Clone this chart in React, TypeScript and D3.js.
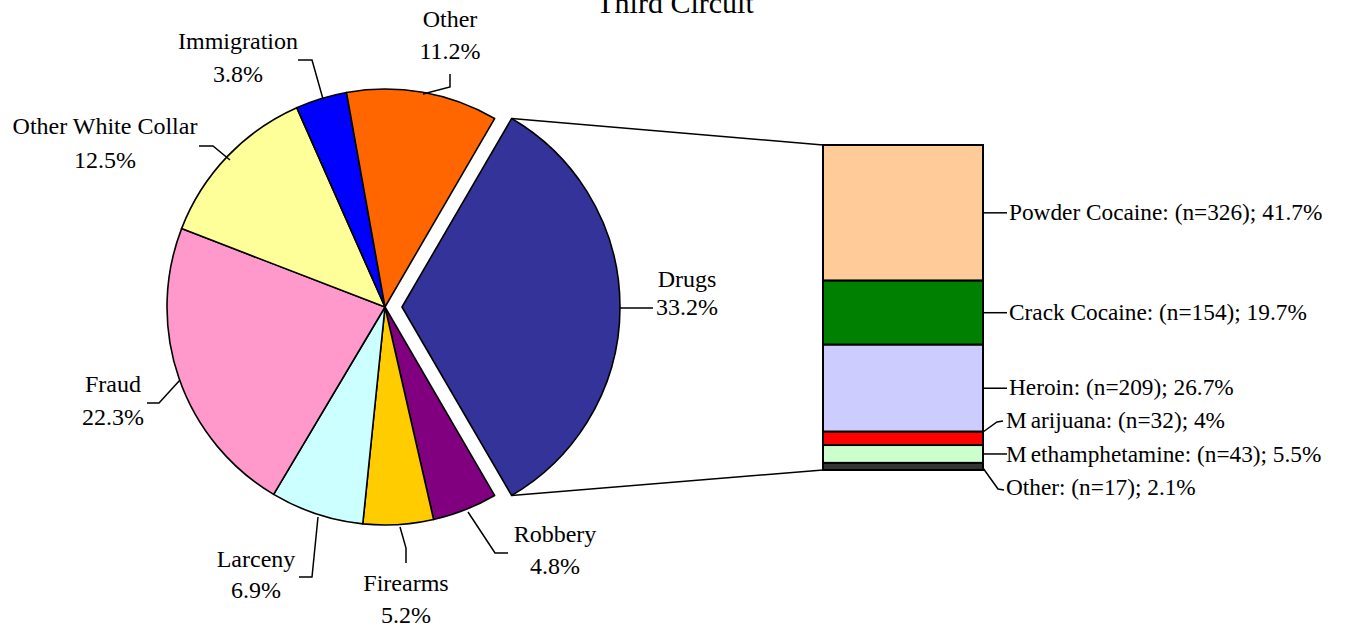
import React from "react";
import * as d3 from "d3";

// ---------- data ----------
const offenseNames = ["Drugs", "Robbery", "Firearms", "Larceny", "Fraud", "Other White Collar", "Immigration", "Other"];
const offensePct = [33.2, 4.8, 5.2, 6.9, 22.3, 12.5, 3.8, 11.2];
const offenseColors = ["#333399", "#800080", "#FFCC00", "#CCFFFF", "#FF99CC", "#FFFF99", "#0000FF", "#FF6600"];

const drugNames = ["Powder Cocaine", "Crack Cocaine", "Heroin", "Marijuana", "Methamphetamine", "Other"];
const drugCounts = [326, 154, 209, 32, 43, 17];
const drugPct = ["41.7%", "19.7%", "26.7%", "4%", "5.5%", "2.1%"];
const drugColors = ["#FFCC99", "#008000", "#CCCCFF", "#FF0000", "#CCFFCC", "#333333"];

const title = "Third Circuit";
const barTitle = "Drug Type";

// ---------- layout ----------
const W = 1348, H = 628;
const CX = 385, CY = 307, R = 218, EXPLODE = 17;
const BAR_X0 = 823, BAR_X1 = 983, BAR_Y0 = 145, BAR_Y1 = 470;
const FONT = "Liberation Serif";
const FS_PIE = 24;
const FS_BAR = 23.3;

// label layout for pie slices: text center x, baselines, leader polyline
const pieLabelLayout: Record<string, { x: number; y1: number; y2: number; leader: [number, number][] }> = {
  "Other": { x: 450, y1: 27, y2: 59, leader: [[450, 74], [450, 87], [423, 94]] },
  "Immigration": { x: 238, y1: 49, y2: 82, leader: [[298, 60], [312, 60], [323, 99]] },
  "Other White Collar": { x: 105, y1: 134, y2: 168, leader: [[199, 146], [213, 146], [230, 160]] },
  "Drugs": { x: 687, y1: 287, y2: 315, leader: [[620, 308], [653, 308]] },
  "Fraud": { x: 113, y1: 392, y2: 425, leader: [[147, 403], [159, 403], [180, 380]] },
  "Larceny": { x: 256, y1: 567, y2: 598, leader: [[299, 577], [312, 577], [318, 517]] },
  "Firearms": { x: 406, y1: 591, y2: 623, leader: [[406, 563], [406, 548], [400, 527]] },
  "Robbery": { x: 555, y1: 542, y2: 574, leader: [[508, 553], [495, 553], [468, 512]] },
};

const barLabelLayout: { y: number; leader: [number, number][] }[] = [
  { y: 220, leader: [] },
  { y: 320, leader: [] },
  { y: 395, leader: [] },
  { y: 428, leader: [[983, 432], [997, 422], [1003, 421]] },
  { y: 462, leader: [] },
  { y: 495, leader: [[983, 468], [998, 489], [1004, 490]] },
];

export default function App() {
  const total = d3.sum(offensePct);
  const drugFrac = offensePct[0] / total;
  const a0 = Math.PI / 2 - drugFrac * Math.PI;
  const pie = d3.pie<number>().sort(null).value((d) => d).startAngle(a0).endAngle(a0 + 2 * Math.PI);
  const arcs = pie(offensePct);
  const arcGen = d3.arc<d3.PieArcDatum<number>>().innerRadius(0).outerRadius(R);

  const drugArc = arcs[0];
  const mid = (drugArc.startAngle + drugArc.endAngle) / 2;
  const dx = EXPLODE * Math.sin(mid);
  const dy = -EXPLODE * Math.cos(mid);
  const corner = (a: number): [number, number] => [CX + dx + R * Math.sin(a), CY + dy - R * Math.cos(a)];
  const topCorner = corner(drugArc.startAngle);
  const botCorner = corner(drugArc.endAngle);

  const drugTotal = d3.sum(drugCounts);
  const yScale = d3.scaleLinear().domain([0, drugTotal]).range([BAR_Y0, BAR_Y1]);
  const cum = d3.cumsum(drugCounts);
  const segs = drugCounts.map((c, i) => ({ y0: yScale(cum[i] - c), y1: yScale(cum[i]) }));

  const line = d3.line();

  return (
    <svg width={W} height={H} style={{ position: "absolute", left: 0, top: 0, background: "#fff", fontFamily: FONT }}>
      <text x={675} y={13} fontSize={30} textAnchor="middle">{title}</text>

      {/* connector lines */}
      <line x1={topCorner[0]} y1={topCorner[1]} x2={BAR_X0} y2={BAR_Y0} stroke="#000" strokeWidth={1.5} />
      <line x1={botCorner[0]} y1={botCorner[1]} x2={BAR_X0} y2={BAR_Y1} stroke="#000" strokeWidth={1.5} />

      {/* pie */}
      {arcs.map((a, i) => (
        <path
          key={offenseNames[i]}
          d={arcGen(a) || ""}
          transform={i === 0 ? `translate(${CX + dx},${CY + dy})` : `translate(${CX},${CY})`}
          fill={offenseColors[i]}
          stroke="#000"
          strokeWidth={1.6}
          strokeLinejoin="round"
        />
      ))}

      {/* pie labels */}
      {offenseNames.map((n, i) => {
        const L = pieLabelLayout[n];
        return (
          <g key={n}>
            <path d={line(L.leader) || ""} fill="none" stroke="#000" strokeWidth={1.5} />
            <text x={L.x} y={L.y1} fontSize={FS_PIE} textAnchor="middle">{n}</text>
            <text x={L.x} y={L.y2} fontSize={FS_PIE} textAnchor="middle">{offensePct[i].toFixed(1)}%</text>
          </g>
        );
      })}

      {/* bar */}
      <text x={(BAR_X0 + BAR_X1) / 2} y={188} fontSize={FS_PIE} textAnchor="middle">{barTitle}</text>
      {segs.map((s, i) => (
        <rect key={drugNames[i]} x={BAR_X0} y={s.y0} width={BAR_X1 - BAR_X0} height={s.y1 - s.y0}
          fill={drugColors[i]} stroke="#000" strokeWidth={2} />
      ))}

      {/* bar labels */}
      {drugNames.map((n, i) => {
        const L = barLabelLayout[i];
        const s = segs[i];
        const ym = (s.y0 + s.y1) / 2;
        const pts: [number, number][] = L.leader.length ? L.leader : [[BAR_X1, ym], [1007, ym]];
        const label = `${n}: (n=${drugCounts[i]}); ${drugPct[i]}`;
        const tx = L.leader.length || i === 4 ? 1006 : 1009;
        return (
          <g key={n}>
            <path d={line(pts) || ""} fill="none" stroke="#000" strokeWidth={1.5} />
            {n.startsWith("M") ? (
              <text x={tx} y={L.y} fontSize={FS_BAR}>
                <tspan>M</tspan><tspan dx={4}>{label.slice(1)}</tspan>
              </text>
            ) : (
              <text x={tx} y={L.y} fontSize={FS_BAR}>{label}</text>
            )}
          </g>
        );
      })}
    </svg>
  );
}
